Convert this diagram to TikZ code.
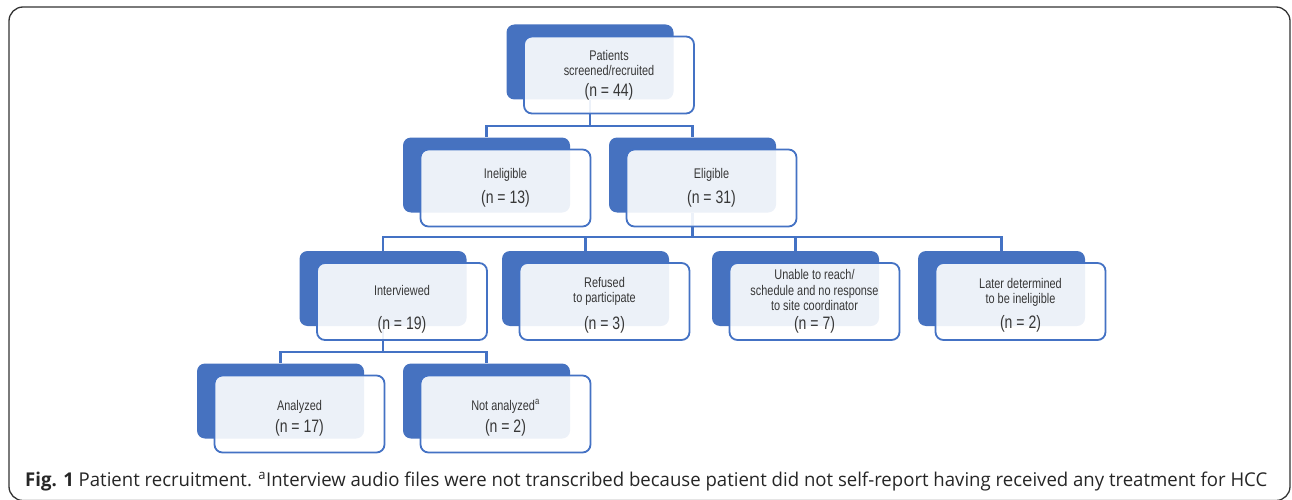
\documentclass[tikz,border=0pt]{standalone}
\usepackage{fontspec}
\usepackage{graphicx}
\setmainfont{Open Sans}
\newfontfamily\boxfont[FakeStretch=0.78]{Liberation Sans}
\usetikzlibrary{positioning}
\definecolor{boxblue}{RGB}{70,114,192}
\definecolor{linkblue}{RGB}{68,114,196}
\definecolor{boxtext}{RGB}{55,55,55}
\newcommand{\nline}[1]{{\fontsize{18}{18}\selectfont #1}}
\newcommand{\topstrut}[1]{\rule{0pt}{#1}}

\begin{document}
\begin{tikzpicture}[x=1pt,y=-1pt,
  back/.style={fill=boxblue,rounded corners=8pt,minimum width=167pt,minimum height=75pt,inner sep=0pt},
  front/.style={draw=linkblue,line width=1.8pt,fill=white,fill opacity=0.9,text opacity=1,
    rounded corners=8pt,minimum width=170pt,minimum height=77pt,inner sep=0pt,align=center,
    text=boxtext,font=\boxfont\fontsize{14}{15.5}\selectfont,xshift=19pt,yshift=-13pt},
  link/.style={draw=linkblue,line width=2.1pt}]
\useasboundingbox (0,0) rectangle (1292,500);
%%Outer frame
\draw[line width=1.3pt,black!80,rounded corners=14pt] (9,7) rectangle (1290,500.5);
%%First place the back boxes
\node[back] (pat-b) at (590,62) {};
\node[back] (inel-b) at (486.5,175) {};
\node[back] (elig-b) at (692.5,175) {};
\node[back] (intv-b) at (383,288.5) {};
\node[back] (ref-b) at (585.5,288.5) {};
\node[back] (unab-b) at (795.5,288.5) {};
\node[back] (late-b) at (1001.5,288.5) {};
\node[back] (anl-b) at (280.5,401) {};
\node[back] (nanl-b) at (486.5,401) {};
%%Draw the connectors
\coordinate (j1) at (590,126);
\coordinate (j2) at (692.5,237);
\coordinate (j3) at (383,352);
\draw[link] (pat-b.south) -- (j1) -| (inel-b.north);
\draw[link] (j1) -| (elig-b.north);
\draw[link] (elig-b.south) -- (j2) -| (intv-b.north);
\draw[link] (j2) -| (ref-b.north);
\draw[link] (j2) -| (unab-b.north);
\draw[link] (j2) -| (late-b.north);
\draw[link] (intv-b.south) -- (j3) -| (anl-b.north);
\draw[link] (j3) -| (nanl-b.north);
%%Then the front boxes with the texts
\node[front] (pat) at (pat-b) {Patients\\screened/recruited\\[5pt]\nline{(n = 44)}};
\node[front] (inel) at (inel-b) {Ineligible\\[8pt]\nline{(n = 13)}};
\node[front] (elig) at (elig-b) {Eligible\\[8pt]\nline{(n = 31)}};
\node[front] (intv) at (intv-b) {\topstrut{26pt}Interviewed\\[18pt]\nline{(n = 19)}};
\node[front] (ref) at (ref-b) {\topstrut{18pt}Refused\\to participate\\[10pt]\nline{(n = 3)}};
\node[front] (unab) at (unab-b) {Unable to reach/\\schedule and no response\\to site coordinator\\[3pt]\nline{(n = 7)}};
\node[front] (late) at (late-b) {\topstrut{18pt}Later determined\\to be ineligible\\[8pt]\nline{(n = 2)}};
\node[front] (anl) at (anl-b) {\topstrut{18pt}Analyzed\\[5pt]\nline{(n = 17)}};
\node[front] (nanl) at (nanl-b) {\topstrut{18pt}Not analyzed\textsuperscript{a}\\[5pt]\nline{(n = 2)}};
%%Caption
\node[anchor=base west,inner sep=0pt,text=black!85] (cap) at (25,486)
  {\resizebox{1242pt}{\height}{\fontsize{19}{22}\selectfont\textbf{Fig. 1} Patient recruitment. \textsuperscript{a}Interview audio files were not transcribed because patient did not self-report having received any treatment for HCC}};
\end{tikzpicture}
\end{document}
